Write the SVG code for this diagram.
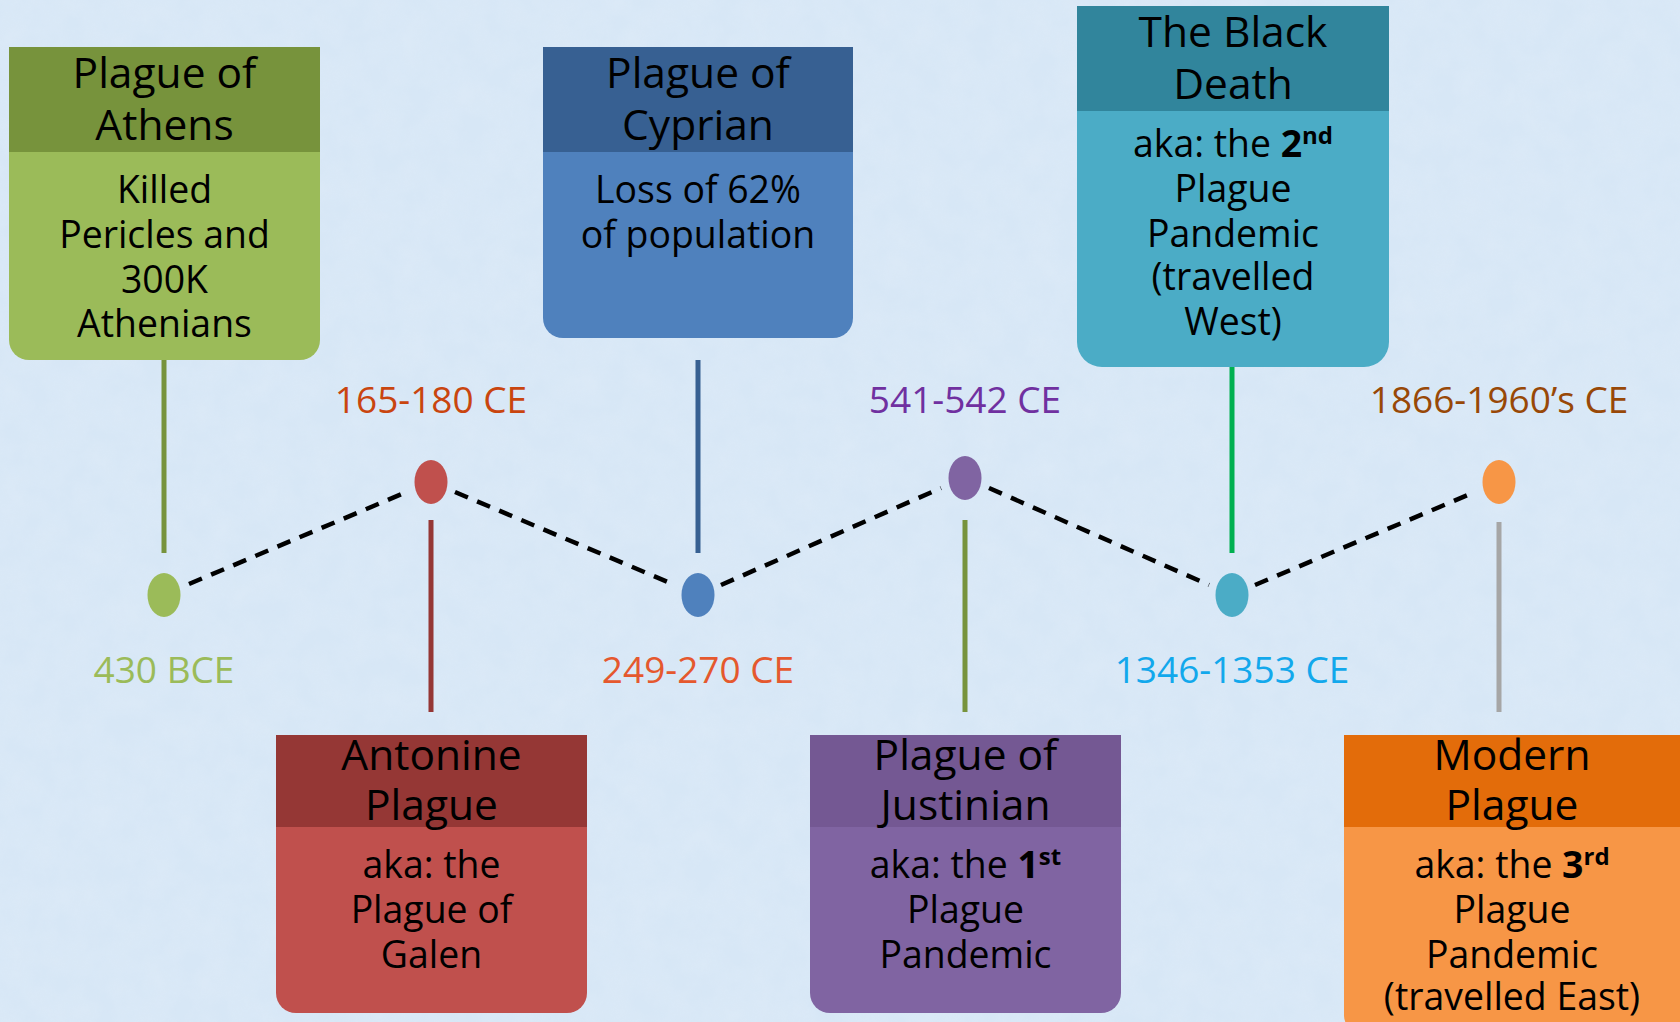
<svg xmlns="http://www.w3.org/2000/svg" width="1680" height="1022" viewBox="0 0 1680 1022">
<defs>
<style>
.t{font-family:"Open Sans","Noto Sans","Liberation Sans",sans-serif;text-anchor:middle;fill:#000}
.h{font-size:42.5px}
.b{font-size:37.4px}
.d{font-size:37px;font-family:"Open Sans","Noto Sans","Liberation Sans",sans-serif;text-anchor:middle}
.sup{font-size:24px;font-weight:700}
.bd{font-weight:700}
.dash{stroke:#000;stroke-width:4.5;stroke-dasharray:14 10;fill:none}
.stem{stroke-width:5;fill:none}
</style>
<filter id="tex" x="0" y="0" width="100%" height="100%">
<feTurbulence type="fractalNoise" baseFrequency="0.035" numOctaves="4" seed="3"/>
<feColorMatrix type="matrix" values="0 0 0 0 0.78  0 0 0 0 0.86  0 0 0 0 0.95  0 0 0 0.9 -0.2"/>
</filter>
</defs>
<rect width="1680" height="1022" fill="#D7E7F6"/>
<rect width="1680" height="1022" fill="#fff" filter="url(#tex)" opacity="0.5"/>

<g id="connectors">
<line class="stem" x1="164" y1="360" x2="164" y2="553" stroke="#77933C"/>
<line class="stem" x1="698" y1="360" x2="698" y2="553" stroke="#376092"/>
<line class="stem" x1="1232" y1="362" x2="1232" y2="553" stroke="#00B050"/>
<line class="stem" x1="431" y1="520" x2="431" y2="712" stroke="#953735"/>
<line class="stem" x1="965" y1="520" x2="965" y2="712" stroke="#77933C"/>
<line class="stem" x1="1499" y1="522" x2="1499" y2="712" stroke="#A6A6A6"/>
<line class="dash" x1="189" y1="584" x2="409" y2="491"/>
<line class="dash" x1="455" y1="492" x2="675" y2="585"/>
<line class="dash" x1="721" y1="585" x2="941" y2="488"/>
<line class="dash" x1="989" y1="488" x2="1209" y2="585"/>
<line class="dash" x1="1255" y1="585" x2="1475" y2="492"/>
</g>

<g id="athens">
<path d="M9 47H320V340A20 20 0 0 1 300 360H29A20 20 0 0 1 9 340Z" fill="#9BBB59"/>
<rect x="9" y="47" width="311" height="105" fill="#77933C"/>
<text class="t h" x="164.5" y="88">Plague of</text>
<text class="t h" x="164.5" y="140">Athens</text>
<text class="t b" x="164.5" y="203">Killed</text>
<text class="t b" x="164.5" y="248">Pericles and</text>
<text class="t b" x="164.5" y="293">300K</text>
<text class="t b" x="164.5" y="337">Athenians</text>
</g>
<g id="athens-date">
<ellipse cx="164" cy="595" rx="16.5" ry="22" fill="#9BBB59"/>
<text class="d" x="164" y="683" fill="#9BBB59">430 BCE</text>
</g>

<g id="antonine">
<path d="M276 735H587V993A20 20 0 0 1 567 1013H296A20 20 0 0 1 276 993Z" fill="#C0504D"/>
<rect x="276" y="735" width="311" height="92" fill="#953735"/>
<text class="t h" x="431.5" y="770">Antonine</text>
<text class="t h" x="431.5" y="820">Plague</text>
<text class="t b" x="431.5" y="878">aka: the</text>
<text class="t b" x="431.5" y="923">Plague of</text>
<text class="t b" x="431.5" y="968">Galen</text>
</g>
<g id="antonine-date">
<ellipse cx="431" cy="482" rx="16.5" ry="22" fill="#C0504D"/>
<text class="d" x="431" y="413" fill="#C9450F">165-180 CE</text>
</g>

<g id="cyprian">
<path d="M543 47H853V318A20 20 0 0 1 833 338H563A20 20 0 0 1 543 318Z" fill="#4F81BD"/>
<rect x="543" y="47" width="310" height="105" fill="#376092"/>
<text class="t h" x="698" y="88">Plague of</text>
<text class="t h" x="698" y="140">Cyprian</text>
<text class="t b" x="698" y="203">Loss of 62%</text>
<text class="t b" x="698" y="248">of population</text>
</g>
<g id="cyprian-date">
<ellipse cx="698" cy="595" rx="16.5" ry="22" fill="#4F81BD"/>
<text class="d" x="698" y="683" fill="#E5582E">249-270 CE</text>
</g>

<g id="justinian">
<path d="M810 735H1121V993A20 20 0 0 1 1101 1013H830A20 20 0 0 1 810 993Z" fill="#8064A2"/>
<rect x="810" y="735" width="311" height="92" fill="#745893"/>
<text class="t h" x="965.5" y="770">Plague of</text>
<text class="t h" x="965.5" y="820">Justinian</text>
<text class="t b" x="965.5" y="878">aka: the <tspan class="bd">1</tspan><tspan class="sup" dy="-13">st</tspan></text>
<text class="t b" x="965.5" y="923">Plague</text>
<text class="t b" x="965.5" y="968">Pandemic</text>
</g>
<g id="justinian-date">
<ellipse cx="965" cy="478" rx="16.5" ry="22" fill="#8064A2"/>
<text class="d" x="965" y="413" fill="#7030A0">541-542 CE</text>
</g>

<g id="blackdeath">
<path d="M1077 6H1389V342A25 25 0 0 1 1364 367H1102A25 25 0 0 1 1077 342Z" fill="#4BACC6"/>
<rect x="1077" y="6" width="312" height="105" fill="#31859C"/>
<text class="t h" x="1233" y="47">The Black</text>
<text class="t h" x="1233" y="99">Death</text>
<text class="t b" x="1233" y="157">aka: the <tspan class="bd">2</tspan><tspan class="sup" dy="-13">nd</tspan></text>
<text class="t b" x="1233" y="202">Plague</text>
<text class="t b" x="1233" y="247">Pandemic</text>
<text class="t b" x="1233" y="290">(travelled</text>
<text class="t b" x="1233" y="335">West)</text>
</g>
<g id="blackdeath-date">
<ellipse cx="1232" cy="595" rx="16.5" ry="22" fill="#4BACC6"/>
<text class="d" x="1232" y="683" fill="#12A8EC">1346-1353 CE</text>
</g>

<g id="modern">
<path d="M1344 735H1700V1015A20 20 0 0 1 1680 1035H1364A20 20 0 0 1 1344 1015Z" fill="#F79646"/>
<rect x="1344" y="735" width="356" height="92" fill="#E36C0A"/>
<text class="t h" x="1512" y="770">Modern</text>
<text class="t h" x="1512" y="820">Plague</text>
<text class="t b" x="1512" y="878">aka: the <tspan class="bd">3</tspan><tspan class="sup" dy="-13">rd</tspan></text>
<text class="t b" x="1512" y="923">Plague</text>
<text class="t b" x="1512" y="968">Pandemic</text>
<text class="t b" x="1512" y="1010">(travelled East)</text>
</g>
<g id="modern-date">
<ellipse cx="1499" cy="482" rx="16.5" ry="22" fill="#F79646"/>
<text class="d" x="1499" y="413" fill="#984807">1866-1960’s CE</text>
</g>
</svg>
